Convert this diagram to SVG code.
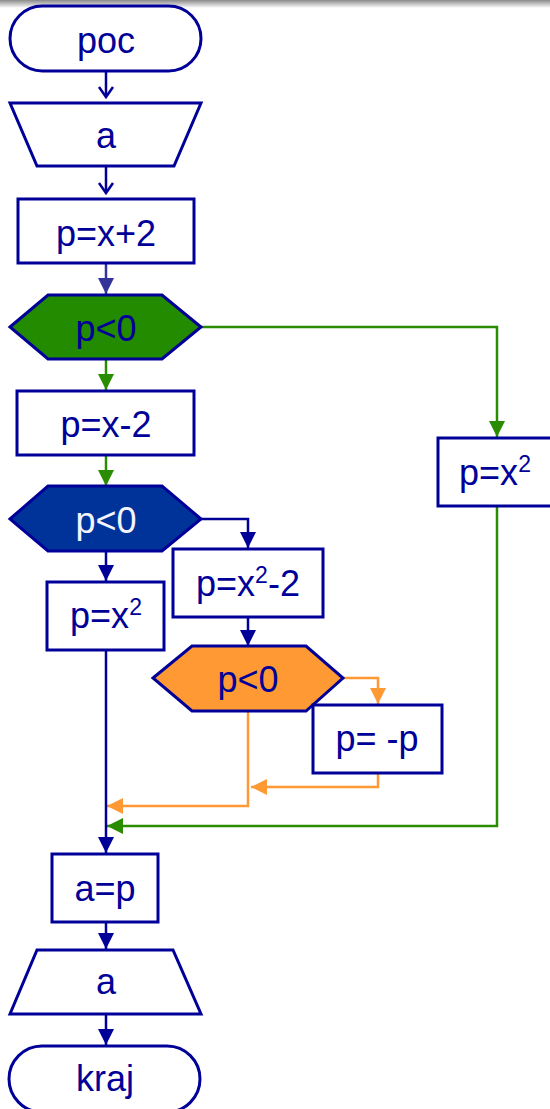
<svg xmlns="http://www.w3.org/2000/svg" width="550" height="1109" viewBox="0 0 550 1109">
  <style>
    .shape { fill: #ffffff; stroke: #000099; stroke-width: 3; }
    .lbl { font-family: "Liberation Sans", Arial, sans-serif; font-size: 36px; fill: #000099; text-anchor: middle; }
    .sup { font-size: 23px; }
    .c-blue { fill: none; stroke: #000099; stroke-width: 2.5; }
    .c-green { fill: none; stroke: #2a8c00; stroke-width: 2.5; }
    .c-orange { fill: none; stroke: #ff9933; stroke-width: 2.5; }
    .c-slate { fill: none; stroke: #333399; stroke-width: 2.5; }
  </style>
  <defs>
    <linearGradient id="topShade" x1="0" y1="0" x2="0" y2="1">
      <stop offset="0" stop-color="#8a8a8a"/>
      <stop offset="1" stop-color="#ffffff"/>
    </linearGradient>
    <marker id="openBlue" markerUnits="userSpaceOnUse" markerWidth="18" markerHeight="18" viewBox="0 0 18 18" refX="15" refY="9" orient="auto">
      <path d="M5,2 L15,9 L5,16" fill="none" stroke="#000099" stroke-width="2.5"/>
    </marker>
    <marker id="arrBlue" markerUnits="userSpaceOnUse" markerWidth="16" markerHeight="16" viewBox="0 0 16 16" refX="16" refY="8" orient="auto">
      <path d="M0,0 L16,8 L0,16 z" fill="#000099"/>
    </marker>
    <marker id="arrSlate" markerUnits="userSpaceOnUse" markerWidth="16" markerHeight="16" viewBox="0 0 16 16" refX="16" refY="8" orient="auto">
      <path d="M0,0 L16,8 L0,16 z" fill="#333399"/>
    </marker>
    <marker id="arrGreen" markerUnits="userSpaceOnUse" markerWidth="16" markerHeight="16" viewBox="0 0 16 16" refX="16" refY="8" orient="auto">
      <path d="M0,0 L16,8 L0,16 z" fill="#2a8c00"/>
    </marker>
    <marker id="arrOrange" markerUnits="userSpaceOnUse" markerWidth="16" markerHeight="16" viewBox="0 0 16 16" refX="16" refY="8" orient="auto">
      <path d="M0,0 L16,8 L0,16 z" fill="#ff9933"/>
    </marker>
  </defs>

  <rect x="0" y="0" width="550" height="1109" fill="#ffffff"/>
  <rect x="0" y="0" width="550" height="8" fill="url(#topShade)"/>

  <!-- connectors -->
  <g id="connectors">
    <path class="c-blue" d="M106,71 V97" marker-end="url(#openBlue)"/>
    <path class="c-blue" d="M106,166 V193" marker-end="url(#openBlue)"/>
    <path class="c-slate" d="M106,263 V294" marker-end="url(#arrSlate)"/>
    <path class="c-green" d="M106,359 V390" marker-end="url(#arrGreen)"/>
    <path class="c-green" d="M106,455 V486" marker-end="url(#arrGreen)"/>
    <path class="c-green" d="M201,327 H497 V437" marker-end="url(#arrGreen)"/>
    <path class="c-blue" d="M106,551 V581" marker-end="url(#arrBlue)"/>
    <path class="c-blue" d="M201,519 H248 V548" marker-end="url(#arrBlue)"/>
    <path class="c-blue" d="M248,617 V646" marker-end="url(#arrBlue)"/>
    <path class="c-orange" d="M343,678 H378 V704" marker-end="url(#arrOrange)"/>
    <path class="c-orange" d="M378,773 V787 H251" marker-end="url(#arrOrange)"/>
    <path class="c-orange" d="M248,711 V806 H107" marker-end="url(#arrOrange)"/>
    <path class="c-green" d="M497,506 V826 H107" marker-end="url(#arrGreen)"/>
    <path class="c-blue" d="M106,650 V853" marker-end="url(#arrBlue)"/>
    <path class="c-blue" d="M106,922 V949" marker-end="url(#arrBlue)"/>
    <path class="c-blue" d="M106,1014 V1045" marker-end="url(#arrBlue)"/>
  </g>

  <g id="start">
    <rect class="shape" x="10" y="6" width="191" height="65" rx="32.5"/>
    <text class="lbl" x="106" y="53">poc</text>
  </g>

  <g id="input-a">
    <polygon class="shape" points="10,103 201,103 174,166 37,166"/>
    <text class="lbl" x="106" y="148">a</text>
  </g>

  <g id="assign-x-plus-2">
    <rect class="shape" x="18" y="199" width="176" height="64"/>
    <text class="lbl" x="106" y="246">p=x+2</text>
  </g>

  <g id="cond-1">
    <polygon class="shape" style="fill:#228b00" points="10,327 48,295 162,295 201,327 162,359 48,359"/>
    <text class="lbl" x="106" y="341">p&lt;0</text>
  </g>

  <g id="assign-x-minus-2">
    <rect class="shape" x="17" y="391" width="177" height="64"/>
    <text class="lbl" x="106" y="437">p=x-2</text>
  </g>

  <g id="assign-x-sq-right">
    <rect class="shape" x="438" y="438" width="118" height="68"/>
    <text class="lbl" x="495" y="485">p=x<tspan class="sup" dy="-13">2</tspan></text>
  </g>

  <g id="cond-2">
    <polygon class="shape" style="fill:#003399" points="10,519 48,486 162,486 201,519 162,551 48,551"/>
    <text class="lbl" x="106" y="533" style="fill:#f4f4ff">p&lt;0</text>
  </g>

  <g id="assign-x-sq-left">
    <rect class="shape" x="47" y="582" width="117" height="68"/>
    <text class="lbl" x="106" y="628">p=x<tspan class="sup" dy="-13">2</tspan></text>
  </g>

  <g id="assign-x-sq-minus-2">
    <rect class="shape" x="173" y="549" width="150" height="68"/>
    <text class="lbl" x="248" y="596">p=x<tspan class="sup" dy="-13">2</tspan><tspan dy="13">-2</tspan></text>
  </g>

  <g id="cond-3">
    <polygon class="shape" style="fill:#ff9933" points="153,678 192,646 306,646 343,678 306,711 192,711"/>
    <text class="lbl" x="248" y="692">p&lt;0</text>
  </g>

  <g id="negate">
    <rect class="shape" x="313" y="705" width="129" height="68"/>
    <text class="lbl" x="377" y="751">p= -p</text>
  </g>

  <g id="assign-a">
    <rect class="shape" x="52" y="854" width="106" height="68"/>
    <text class="lbl" x="105" y="901">a=p</text>
  </g>

  <g id="output-a">
    <polygon class="shape" points="37,950 173,950 201,1014 10,1014"/>
    <text class="lbl" x="106" y="994">a</text>
  </g>

  <g id="end">
    <rect class="shape" x="9" y="1046" width="191" height="66" rx="33"/>
    <text class="lbl" x="105" y="1091">kraj</text>
  </g>
</svg>
